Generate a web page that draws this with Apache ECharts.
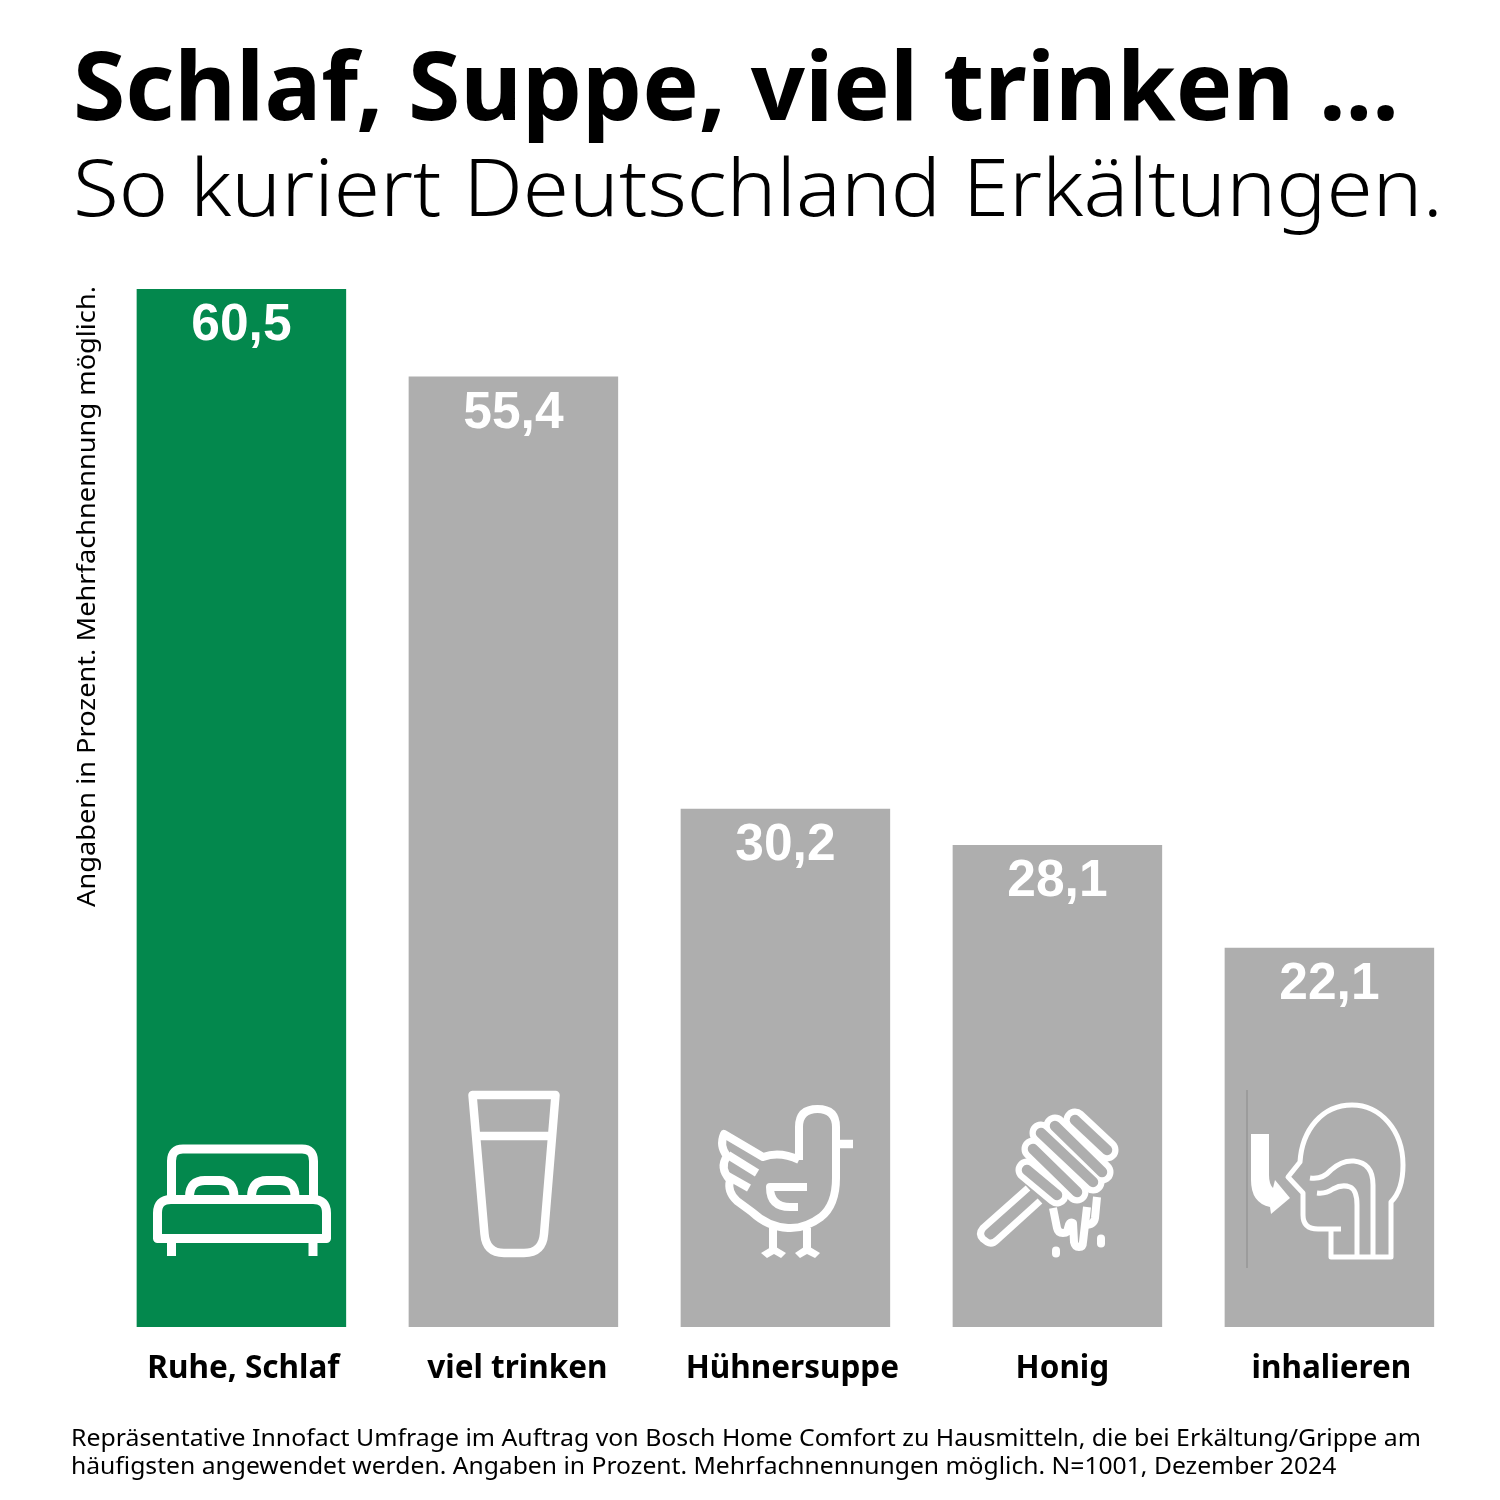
<!DOCTYPE html>
<html>
<head>
<meta charset="utf-8">
<style>
  html, body { margin: 0; padding: 0; background: #fff; }
  #chart { width: 1500px; height: 1500px; }
</style>
<script src="https://cdn.jsdelivr.net/npm/echarts@6/dist/echarts.min.js"></script>
</head>
<body>
<div id="chart"></div>
<script>
// Daten
var categories = ['Ruhe, Schlaf', 'viel trinken', 'Hühnersuppe', 'Honig', 'inhalieren'];
var values = [60.5, 55.4, 30.2, 28.1, 22.1];
var highlighted = ['Ruhe, Schlaf'];

var headline = 'Schlaf, Suppe, viel trinken ...';
var subline = 'So kuriert Deutschland Erkältungen.';
var axisNote = 'Angaben in Prozent. Mehrfachnennung möglich.';
var footnotes = [
    'Repräsentative Innofact Umfrage im Auftrag von Bosch Home Comfort zu Hausmitteln, die bei Erkältung/Grippe am',
    'häufigsten angewendet werden. Angaben in Prozent. Mehrfachnennungen möglich. N=1001, Dezember 2024'
];

var GREEN = '#03884d';
var GREY = '#aeaeae';
var FONT = '"Noto Sans", sans-serif';

// Beschriftungen sitzen im Original leicht rechts der Balkenmitte
var labelShift = [2, 4, 7, 5, 2];

function text(str, x, y, size, weight, extra) {
    var el = {
        type: 'text',
        x: x,
        y: y,
        style: {
            text: str,
            fill: '#000',
            font: weight + ' ' + size + 'px ' + FONT,
            textVerticalAlign: 'middle'
        }
    };
    for (var k in extra) el[k] = extra[k];
    return el;
}

// graphic kennt keinen path-Typ, darum jede Form als eigene Klasse registrieren
var shapeCount = 0;
function pathEl(d, style) {
    var name = 'iconShape' + (shapeCount++);
    echarts.graphic.registerShape(name, echarts.graphic.extendPath(d, {}));
    return { type: name, shape: {}, style: style, z: 10 };
}

function line(d, width, extra) {
    var style = { fill: 'none', stroke: '#fff', lineWidth: width, lineJoin: 'round', lineCap: 'butt' };
    for (var k in extra) style[k] = extra[k];
    return pathEl(d, style);
}

function solid(d) {
    return pathEl(d, { fill: '#fff', stroke: 'none' });
}

// Icons
var bedIcon = [
    line('M171.5 1197V1161Q171.5 1149 183 1149H302Q313.5 1149 313.5 1161V1197', 9),
    line('M189.5 1197Q189.5 1180.5 205 1180.5H219Q234 1180.5 234 1197', 9),
    line('M251.5 1197Q251.5 1180.5 267 1180.5H280Q295 1180.5 295 1197', 9),
    line('M157.5 1238.5V1213Q157.5 1199.5 171 1199.5H313Q326.5 1199.5 326.5 1213V1238.5Z', 9),
    line('M171.5 1240V1256', 9),
    line('M313 1240V1256', 9)
];

var glassIcon = [
    line('M472.5 1095H555.5L544 1234Q542.5 1253 524 1253H504Q486 1253 484.500 1234Z', 8.5),
    line('M477 1136H551', 8.5)
];

var chickenIcon = [
    line('M799 1160V1127Q799 1109 817.500 1109Q836 1109 836 1127V1178Q836 1205 821 1217Q805 1229 788 1228Q768 1227 752 1212L737 1201Q727 1192 730 1180Q719 1168 727 1156Q719 1146 724 1134L763 1157Q780 1151 799 1160', 8),
    line('M728 1155L757 1173', 8),
    line('M726 1175L749 1188', 8),
    line('M840 1144H853', 8.5),
    line('M807 1187H770Q770 1207 790 1207H798', 8),
    line('M773 1228V1250', 8),
    line('M807 1228V1250', 8),
    solid('M761 1253L771 1247H776L786 1253L781 1258L774 1254L767 1258Z'),
    solid('M795 1253L804 1247H810L820 1253L815 1258L807 1254L800 1258Z')
];

var honeyIcon = [
    line('M1028 1188L983 1228Q978 1234 983 1239L987 1242Q992 1245 997 1240L1040 1201', 7),
    line('M1027 1170L1057 1195', 23, { lineCap: 'round' }),
    line('M1033 1149L1077 1192', 23, { lineCap: 'round' }),
    line('M1041 1133L1093 1182', 23, { lineCap: 'round' }),
    line('M1055 1126L1102 1172', 23, { lineCap: 'round' }),
    line('M1075 1120L1107 1150', 23, { lineCap: 'round' }),
    line('M1027 1170L1057 1195', 10.5, { stroke: GREY, lineCap: 'round' }),
    line('M1033 1149L1077 1192', 10.5, { stroke: GREY, lineCap: 'round' }),
    line('M1041 1133L1093 1182', 10.5, { stroke: GREY, lineCap: 'round' }),
    line('M1055 1126L1102 1172', 10.5, { stroke: GREY, lineCap: 'round' }),
    line('M1075 1120L1107 1150', 10.5, { stroke: GREY, lineCap: 'round' }),
    line('M1053 1208L1057 1228Q1058 1233 1063 1233Q1068 1233 1068 1228Q1069 1221 1073 1223L1074 1242Q1075 1247 1079 1247Q1083 1247 1083 1242L1087 1207', 8),
    line('M1097 1197L1095 1218Q1094 1225 1085 1225', 8),
    line('M1056 1250.5V1253.5', 8, { lineCap: 'round' }),
    line('M1101 1238.5V1243.5', 8, { lineCap: 'round' })
];

var inhaleIcon = [
    line('M1247 1090V1268', 1, { stroke: '#8a8a8a' }),
    solid('M1251 1134H1269V1175Q1269 1184 1273 1188L1275 1180L1290 1198L1271 1214L1270 1207Q1251 1203 1251 1180Z'),
    line('M1331 1229V1257H1391V1202Q1403 1190 1403 1165C1403 1130 1380 1105 1352 1105C1322 1105 1302 1130 1300 1162L1288 1177L1303 1193V1215Q1303 1229 1318 1229H1341', 5),
    line('M1310 1178Q1322 1180 1331 1170Q1342 1160 1354 1161Q1373 1163 1373 1185V1257', 5),
    line('M1317 1193Q1326 1194 1333 1189Q1342 1184 1350 1187Q1357 1190 1357 1205V1257', 5)
];

var richStyles = {};
for (var i = 0; i < categories.length; i++) {
    richStyles['c' + i] = {
        fontFamily: FONT,
        fontWeight: 700,
        fontSize: 31.5,
        color: '#000',
        padding: [0, 0, 0, labelShift[i] * 2]
    };
}

var chart = echarts.init(document.getElementById('chart'));

var option = {
    animation: false,
    grid: { left: 105.4, top: 289, width: 1360, height: 1038 },
    xAxis: {
        type: 'category',
        data: categories,
        axisLine: { show: false },
        axisTick: { show: false },
        axisLabel: {
            margin: 26,
            interval: 0,
            rich: richStyles,
            formatter: function (value, index) {
                return '{c' + index + '|' + value + '}';
            }
        }
    },
    yAxis: {
        type: 'value',
        min: 0,
        max: 60.5,
        show: false
    },
    series: [{
        type: 'bar',
        barWidth: 209.5,
        data: values.map(function (v, i) {
            return {
                value: v,
                itemStyle: { color: highlighted.indexOf(categories[i]) >= 0 ? GREEN : GREY }
            };
        }),
        label: {
            show: true,
            position: 'insideTop',
            distance: 11,
            color: '#fff',
            fontFamily: '"Liberation Sans", sans-serif',
            fontWeight: 'bold',
            fontSize: 51.5,
            formatter: function (p) {
                return String(p.value).replace('.', ',');
            }
        }
    }],
    graphic: [
        text(headline, 73, 93, 95, 700),
        text(subline, 73, 193, 80, 300, { scaleX: 1.047 }),
        text(axisNote, 88, 907, 25, 400, { rotation: Math.PI / 2, scaleX: 1.088 }),
        text(footnotes[0], 71, 1439.5, 24, 400, { scaleX: 1.035 }),
        text(footnotes[1], 71, 1467.5, 24, 400, { scaleX: 1.028 })
    ].concat(bedIcon, glassIcon, chickenIcon, honeyIcon, inhaleIcon)
};

chart.setOption(option);
</script>
</body>
</html>
